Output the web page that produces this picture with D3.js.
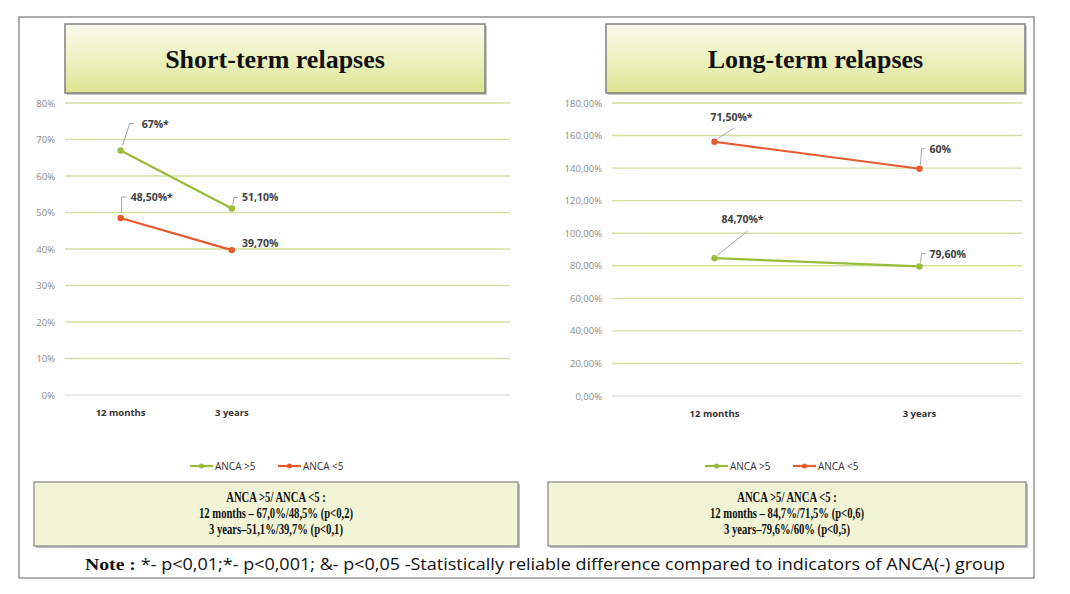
<!DOCTYPE html>
<html>
<head>
<meta charset="utf-8">
<script src="https://cdn.jsdelivr.net/npm/d3@7"></script>
<style>
    body { margin: 0; background: #fff; }
    svg { display: block; }
    .tick-label { font-family: "Open Sans", sans-serif; font-size: 9.5px; fill: #8a8a8a; }
    .cat-label { font-family: "Open Sans", sans-serif; font-size: 9.5px; font-weight: bold; fill: #333; }
    .data-label { font-family: "Open Sans", sans-serif; font-size: 10.5px; font-weight: bold; fill: #404040; }
    .leader { stroke: #a6a6a6; stroke-width: 1; fill: none; }
    .grid { stroke: #d3e19f; stroke-width: 1.4; }
    .title { font-family: "Liberation Serif", serif; font-weight: bold; font-size: 26px; fill: #111; }
    .box-text { font-family: "Liberation Serif", serif; font-weight: bold; font-size: 14px; fill: #111; }
    .legend-text { font-family: "Open Sans", sans-serif; font-size: 10px; fill: #333; }
</style>
</head>
<body>
<svg id="chart" width="1070" height="594"></svg>
<script>
// ---- data ----
const periods = ["12 months", "3 years"];

const shortHigh = [67, 51.1];      // ANCA >5
const shortLow = [48.5, 39.7];     // ANCA <5
const shortHighLabels = ["67%*", "51,10%"];
const shortLowLabels = ["48,50%*", "39,70%"];
const shortTicks = [0, 10, 20, 30, 40, 50, 60, 70, 80];

const longHigh = [84.7, 79.6];     // ANCA >5
const longLow = [71.5, 60];        // ANCA <5 (stacked on top)
const longHighLabels = ["84,70%*", "79,60%"];
const longLowLabels = ["71,50%*", "60%"];
const longTicks = [0, 20, 40, 60, 80, 100, 120, 140, 160, 180];

const seriesNames = ["ANCA >5", "ANCA <5"];

const boxLeft = ["ANCA >5/ ANCA <5 :", "12 months \u2013 67,0%/48,5% (p<0,2)", "3 years\u201351,1%/39,7% (p<0,1)"];
const boxRight = ["ANCA >5/ ANCA <5 :", "12 months \u2013 84,7%/71,5% (p<0,6)", "3 years\u201379,6%/60% (p<0,5)"];

const green = "#9bbb3b", red = "#e65a2e";

const svg = d3.select("#chart");

// gradient for title boxes
const defs = svg.append("defs");
const grad = defs.append("linearGradient").attr("id", "titleGrad")
    .attr("x1", 0).attr("y1", 0).attr("x2", 0).attr("y2", 1);
grad.append("stop").attr("offset", "0%").attr("stop-color", "#fbfcef");
grad.append("stop").attr("offset", "100%").attr("stop-color", "#dde693");

// outer frame
svg.append("rect")
    .attr("x", 19).attr("y", 17).attr("width", 1015).attr("height", 561)
    .attr("fill", "#fff").attr("stroke", "#7a7a7a").attr("stroke-width", 1.2);

function titleBox(x, y, w, h, text) {
    svg.append("rect").attr("x", x + 2).attr("y", y + 2).attr("width", w).attr("height", h)
        .attr("fill", "#c8c8c8");
    svg.append("rect").attr("x", x).attr("y", y).attr("width", w).attr("height", h)
        .attr("fill", "url(#titleGrad)").attr("stroke", "#808080").attr("stroke-width", 1.5);
    svg.append("text").attr("class", "title")
        .attr("x", x + w / 2).attr("y", y + h / 2 + 9)
        .attr("text-anchor", "middle").text(text);
}

titleBox(65, 24, 420, 69, "Short-term relapses");
titleBox(606, 24, 419, 69, "Long-term relapses");

function drawChart(opt) {
    const g = svg.append("g");
    const x = d3.scaleBand().domain(d3.range(opt.slots)).range([opt.x0, opt.x1]);
    const y = d3.scaleLinear().domain([0, opt.max]).range([opt.y0, opt.y1]);

    // grid
    g.selectAll(".grid").data(opt.ticks).enter().append("line")
        .attr("class", "grid")
        .attr("x1", opt.x0).attr("x2", opt.x1)
        .attr("y1", d => y(d)).attr("y2", d => y(d))
        .style("stroke", d => d === 0 ? "#e3e3e3" : null);

    // y axis labels
    g.selectAll(".tick-label").data(opt.ticks).enter().append("text")
        .attr("class", "tick-label")
        .attr("x", opt.x0 - 10).attr("y", d => y(d) + 3.5)
        .attr("text-anchor", "end")
        .text(opt.fmt);

    // category labels
    g.selectAll(".cat-label").data(periods).enter().append("text")
        .attr("class", "cat-label")
        .attr("x", (d, i) => x(i) + x.bandwidth() / 2)
        .attr("y", opt.y0 + 21)
        .attr("text-anchor", "middle")
        .text(d => d);

    const line = d3.line()
        .x((d, i) => x(i) + x.bandwidth() / 2)
        .y(d => y(d));

    opt.series.forEach(s => {
        g.append("path").datum(s.values)
            .attr("d", line)
            .attr("fill", "none").attr("stroke", s.color).attr("stroke-width", 2.2);
        g.selectAll(null).data(s.values).enter().append("circle")
            .attr("cx", (d, i) => x(i) + x.bandwidth() / 2)
            .attr("cy", d => y(d))
            .attr("r", 3.2).attr("fill", s.color);

        s.values.forEach((v, i) => {
            const px = x(i) + x.bandwidth() / 2, py = y(v);
            const o = s.offsets[i];
            if (o.leader) {
                g.append("path").attr("class", "leader")
                    .attr("d", `M${px + o.leader[0][0]},${py + o.leader[0][1]}` +
                        o.leader.slice(1).map(p => `L${px + p[0]},${py + p[1]}`).join(""));
            }
            g.append("text").attr("class", "data-label")
                .attr("x", px + o.dx).attr("y", py + o.dy)
                .attr("text-anchor", o.anchor || "start")
                .text(s.labels[i]);
        });
    });

    // legend
    const lg = g.append("g").attr("transform", `translate(${opt.legendX},${opt.legendY})`);
    seriesNames.forEach((name, i) => {
        const c = opt.series[i].color;
        const ox = i * 88;
        lg.append("line").attr("x1", ox).attr("x2", ox + 23).attr("y1", 0).attr("y2", 0)
            .attr("stroke", c).attr("stroke-width", 2.2);
        lg.append("circle").attr("cx", ox + 11.5).attr("cy", 0).attr("r", 2.5).attr("fill", c);
        lg.append("text").attr("class", "legend-text").attr("x", ox + 25).attr("y", 3.5).text(name);
    });
}

drawChart({
    slots: 4, x0: 65, x1: 510, y0: 395, y1: 103, max: 80,
    ticks: shortTicks, fmt: d => d + "%",
    legendX: 190, legendY: 466,
    series: [
        { values: shortHigh, labels: shortHighLabels, color: green,
          offsets: [
              { dx: 21, dy: -22, leader: [[2, -5], [9, -27], [13, -27]] },
              { dx: 10, dy: -7, leader: [[1, -4], [2, -11], [6, -11]] }
          ] },
        { values: shortLow, labels: shortLowLabels, color: red,
          offsets: [
              { dx: 10, dy: -17, leader: [[1, -5], [1, -21], [6, -21]] },
              { dx: 10, dy: -3 }
          ] }
    ]
});

drawChart({
    slots: 2, x0: 612, x1: 1022, y0: 396, y1: 103, max: 180,
    ticks: longTicks, fmt: d => d + ",00%",
    legendX: 705, legendY: 466,
    series: [
        { values: longHigh, labels: longHighLabels, color: green,
          offsets: [
              { dx: 28, dy: -35, anchor: "middle", leader: [[3, -3], [33, -27]] },
              { dx: 10, dy: -8, leader: [[1, -4], [2, -13], [6, -13]] }
          ] },
        { values: longHigh.map((v, i) => v + longLow[i]), labels: longLowLabels, color: red,
          offsets: [
              { dx: 17, dy: -21, anchor: "middle", leader: [[3, -3], [20, -14]] },
              { dx: 10, dy: -16, leader: [[1, -4], [2, -20], [6, -20]] }
          ] }
    ]
});

// bottom boxes
function infoBox(x, y, w, h, lines) {
    svg.append("rect").attr("x", x + 2).attr("y", y + 2).attr("width", w).attr("height", h)
        .attr("fill", "#bdbdbd");
    svg.append("rect").attr("x", x).attr("y", y).attr("width", w).attr("height", h)
        .attr("fill", "#f2f4d6").attr("stroke", "#8c8c8c").attr("stroke-width", 1.3);
    lines.forEach((t, i) => {
        svg.append("text").attr("class", "box-text")
            .attr("x", x + w / 2).attr("y", y + 20 + i * 16)
            .attr("text-anchor", "middle")
            .attr("transform", `translate(${x + w / 2},0) scale(0.76,1) translate(${-(x + w / 2)},0)`)
            .text(t);
    });
}

infoBox(34, 482, 484, 64, boxLeft);
infoBox(548, 482, 478, 64, boxRight);

// note
const note = svg.append("text")
    .attr("x", 85).attr("y", 570)
    .attr("textLength", 920).attr("lengthAdjust", "spacingAndGlyphs")
    .style("font-size", "15.5px").style("fill", "#111");
note.append("tspan").style("font-family", "Liberation Serif, serif").style("font-weight", "bold")
    .style("font-size", "17px").text("Note : ");
note.append("tspan").style("font-family", "Open Sans, sans-serif")
    .text("*- p<0,01;*- p<0,001; &- p<0,05 -Statistically reliable difference compared to indicators of ANCA(-) group");
</script>
</body>
</html>
